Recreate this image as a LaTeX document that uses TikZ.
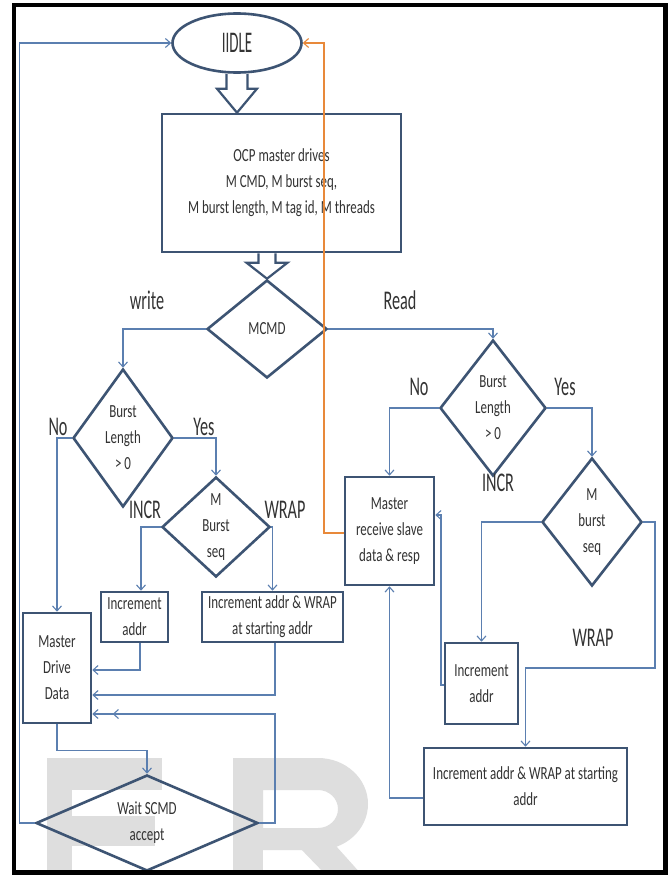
\documentclass[tikz,border=0pt]{standalone}
\usepackage{fontspec}
\setmainfont{Carlito}[FakeStretch=0.7]
\newfontfamily\lblfont{Carlito}[FakeStretch=0.6]
\newfontfamily\idlefont{Carlito}[FakeStretch=0.5]
\usetikzlibrary{shapes.geometric,arrows.meta,calc}
\definecolor{boxc}{HTML}{3D5473}
\definecolor{conc}{HTML}{5B7FB0}
\definecolor{orc}{HTML}{E8893A}
\definecolor{txtc}{HTML}{333333}
\definecolor{wmc}{HTML}{DEDEDE}
\begin{document}
\begin{tikzpicture}[x=1pt,y=-1pt,
  box/.style={draw=boxc, line width=2.6pt, rectangle, inner sep=0pt, text=txtc,
              font=\fontsize{18.5}{26}\selectfont, align=center},
  dia/.style={draw=boxc, line width=2.6pt, diamond, inner sep=0pt},
  txt/.style={text=txtc, font=\fontsize{18.5}{26}\selectfont, align=center, inner sep=0pt},
  lbl/.style={text=txtc, font=\lblfont\fontsize{27}{30}\selectfont, inner sep=0pt},
  conn/.style={draw=conc, line width=1.1pt},
  orng/.style={draw=orc, line width=1.1pt},
  arr/.style={-{Straight Barb[length=5pt,width=9pt]}},
  dblarr/.style={-{Straight Barb[length=5pt,width=9pt,sep=14pt]Straight Barb[length=5pt,width=9pt]}},
  hollow/.style={draw=boxc, line width=2.2pt, line join=miter},
  wm/.style={fill=wmc, draw=none}]
\useasboundingbox (0,0) rectangle (670,875);
\fill[white] (0,0) rectangle (670,875);

% watermark
\fill[wm] (47,758) rectangle (72,875);
\fill[wm] (47,758) rectangle (162,790);
\fill[wm] (47,816) rectangle (155,846);
\fill[wm] (233,758) rectangle (263,875);
\fill[wm, even odd rule] (233,758) -- (318,758) arc[start angle=-90, end angle=90, x radius=50, y radius=46] -- (233,850) -- cycle
   (263,790) -- (318,790) arc[start angle=-90, end angle=90, x radius=20, y radius=19] -- (263,828) -- cycle;
\fill[wm] (298,846) -- (336,846) -- (362,875) -- (326,875) -- cycle;

% nodes
\node[draw=boxc, line width=2.6pt, ellipse, minimum width=129, minimum height=59, inner sep=0pt,
      text=txtc, font=\idlefont\fontsize{30}{30}\selectfont] (idle) at (237,43) {IIDLE};
\node[box, minimum width=239, minimum height=138] (ocp) at (281.5,183)
  {OCP master drives\\M CMD, M burst seq,\\M burst length, M tag id, M threads};
\node[dia, minimum width=120, minimum height=98] (mcmd) at (267,329) {};
\node[txt] (mcmdt) at (mcmd) {MCMD};

\node[dia, minimum width=100, minimum height=138] (wbl) at (123,438) {};
\node[txt] (wblt) at (wbl) {Burst\\Length\\> 0};
\node[dia, minimum width=108, minimum height=100] (wseq) at (216,527) {};
\node[txt] (wseqt) at (wseq) {M\\Burst\\seq};
\node[box, minimum width=68, minimum height=110] (wdata) at (57,668) {Master\\Drive\\Data};
\node[box, minimum width=67, minimum height=50] (winc) at (134.5,617) {Increment\\addr};
\node[box, minimum width=141, minimum height=50] (wwrap) at (272.5,617) {Increment addr \& WRAP\\at starting addr};
\node[dia, minimum width=222, minimum height=96] (wait) at (147,823) {};
\node[txt] (waitt) at (wait) {Wait SCMD\\accept};

\node[dia, minimum width=106, minimum height=136] (rbl) at (493,408) {};
\node[txt] (rblt) at (rbl) {Burst\\Length\\> 0};
\node[dia, minimum width=100, minimum height=128] (rseq) at (592,522) {};
\node[txt] (rseqt) at (rseq) {M\\burst\\seq};
\node[box, minimum width=89, minimum height=108] (rrecv) at (389.5,531) {Master\\receive slave\\data \& resp};
\node[box, minimum width=73, minimum height=81] (rinc) at (481.5,683.5) {Increment\\addr};
\node[box, minimum width=203, minimum height=77] (rwrap) at (525.5,786.5) {Increment addr \& WRAP at starting\\addr};

% labels
\node[lbl] (lwrite) at (147,300) {write};
\node[lbl] (lread) at (400,300) {Read};
\node[lbl] (lno1) at (58,427) {No};
\node[lbl] (lyes1) at (204,427) {Yes};
\node[lbl] (lincr1) at (145,510) {INCR};
\node[lbl] (lwrap1) at (285,510) {WRAP};
\node[lbl] (lno2) at (419,387) {No};
\node[lbl] (lyes2) at (565,387) {Yes};
\node[lbl] (lincr2) at (498,483) {INCR};
\node[lbl] (lwrap2) at (593,638) {WRAP};

% hollow block arrows
\coordinate (a1) at (idle.south |- ocp.north);
\draw[hollow] ($(idle.south)+(-10.5,0)$) -- ($(a1)+(-10.5,-24)$) -- ($(a1)+(-20,-24)$) -- (a1)
   -- ($(a1)+(20,-24)$) -- ($(a1)+(10.5,-24)$) -- ($(idle.south)+(10.5,0)$);
\coordinate (a2) at (mcmd.north |- ocp.south);
\draw[hollow] ($(a2)+(-8.5,0)$) -- ($(mcmd.north)+(-8.5,-16)$) -- ($(mcmd.north)+(-20.5,-16)$) -- (mcmd.north)
   -- ($(mcmd.north)+(20.5,-16)$) -- ($(mcmd.north)+(8.5,-16)$) -- ($(a2)+(8.5,0)$);

% connectors
\draw[conn,arr] (wait.west) -- ++(-15,0) |- (idle.west);
\draw[orng,arr] (rrecv.west |- 0,533) -- (324,533) |- (idle.east);
\draw[conn,arr] (mcmd.west) -| (wbl.north);
\draw[conn,arr] (mcmd.east) -| (rbl.north);
\draw[conn,arr] (wbl.west) -| (wdata.north);
\draw[conn,arr] (wbl.east) -| (wseq.north);
\draw[conn,arr] (wseq.west) -| (winc.north -| 141,0);
\draw[conn,arr] (wseq.east) -| (wwrap.north);
\draw[conn,arr] (winc.south -| 140,0) |- (wdata.east |- 0,670);
\draw[conn,arr] (wwrap.south -| 275,0) |- (wdata.east |- 0,695);
\draw[conn,dblarr] (wait.east) -| (275,714) -- (wdata.east |- 0,714);
\draw[conn,arr] (wdata.south) -- ++(0,26) -| (wait.north);
\draw[conn,arr] (rbl.west) -| (rrecv.north);
\draw[conn,arr] (rbl.east) -| (rseq.north);
\draw[conn,arr] (rseq.west) -| (rinc.north);
\draw[conn,arr] (rseq.east) -| (655,668) -| (rwrap.north);
\draw[conn,arr] (rinc.west |- 0,685) -- (441,685) |- (rrecv.east |- 0,515);
\draw[conn,arr] (rwrap.west |- 0,798) -| (rrecv.south);

% frame
\draw[line width=4.5pt, black] (14,5) rectangle (665.5,872.5);
\end{tikzpicture}
\end{document}
